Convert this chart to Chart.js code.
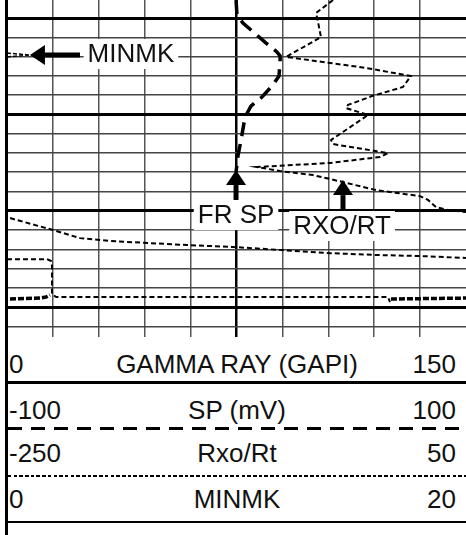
<!DOCTYPE html>
<html lang="en">
<head>
<meta charset="UTF-8" />
<title>Log track</title>
<script src="https://cdn.jsdelivr.net/npm/chart.js"></script>
<style>
  body { margin: 0; background: #fff; font-family: "Liberation Sans", Arial, sans-serif; color: #111; }
  #page { position: relative; width: 466px; height: 535px; overflow: hidden; }
  #track { position: absolute; left: 0; top: 0; }
  #edge { position: absolute; left: 5px; top: 0; width: 3px; height: 535px; background: #000; }
  .row { position: absolute; left: 8px; right: 0; height: 26px; line-height: 26px; font-size: 26px; }
  .row span { position: absolute; top: 0; white-space: pre; }
  .row .lo { left: 1px; }
  .row .name { left: 0; right: 0; text-align: center; }
  .row .hi { right: 10px; }
  .rule { position: absolute; left: 8px; right: 0; }
</style>
</head>
<body>
<div id="page">
  <canvas id="track" width="466" height="337"></canvas>
  <div id="header"></div>
  <div id="edge"></div>
</div>
<script>
  // header scales
  const trackNames = ['GAMMA RAY (GAPI)', 'SP (mV)', 'Rxo/Rt', 'MINMK'];
  const trackMin = [0, -100, -250, 0];
  const trackMax = [150, 100, 50, 20];

  // grid: 10 columns, depth lines (heavy every 5)
  const gridCols = [0, 1, 2, 3, 4, 5, 6, 7, 8, 9, 10];
  const depthLines = [0, 1, 2, 3, 4, 5, 6, 7, 8, 9, 10, 11, 12, 13, 14, 15, 16];
  const depthTop = -0.934, depthBottom = 16.55;

  // curves (value on own scale, depth in grid units)
  const spValue = [-0.2, 0.2, 2.8, 12.9, 17.6, 19.0, 19.0, 18.5, 15.5, 11.1, 6.3, 3.7, 2.0, 0.7, -0.2];
  const spDepth = [-0.93, -0.16, 0.26, 1.30, 1.76, 1.97, 2.28, 3.01, 3.53, 4.10, 4.57, 5.14, 6.33, 7.11, 7.99];

  const rxoValue = [-36.9, -48.0, -46.7, -44.8, -67.6, -15.4, 14.0, 8.8, -11.4, -27.1, -28.4, -14.0, -38.2, -36.9,
                    -1.0, -6.2, -38.9, -86.6, -71.6, -50.0, -30.4, -8.8, 19.9, 25.2, 30.4, 38.2, 50.0];
  const rxoDepth = [-0.93, -0.26, 0.21, 0.99, 2.02, 2.59, 3.01, 3.58, 4.05, 4.51, 4.67, 5.03, 6.33, 6.54,
                    7.01, 7.21, 7.52, 7.73, 7.94, 8.15, 8.51, 8.93, 9.24, 9.44, 9.81, 9.96, 10.07];

  const rxoWrapValue = [-248.0, -219.9, -202.3, -182.7, -156.5, -132.4, -102.3, -70.3, -38.9, -6.2, 19.9, 50.0];
  const rxoWrapDepth = [10.38, 11.00, 11.42, 11.57, 11.68, 11.78, 11.88, 12.04, 12.20, 12.30, 12.35, 12.45];

  const minmkTopValue = [0, 1.0, 0];
  const minmkTopDepth = [1.82, 1.92, 2.02];

  const minmkValue = [0, 1.74, 1.92, 1.96, 1.96, 2.14, 16.60, 16.69];
  const minmkDepth = [12.51, 12.51, 12.61, 12.87, 14.32, 14.48, 14.48, 14.74];

  const minmkRepeatValue = [0.13, 1.44, 1.70, 1.87, null, 16.73, 20.0];
  const minmkRepeatDepth = [14.58, 14.53, 14.48, 14.37, null, 14.58, 14.53];

  // callouts (grid units)
  const calloutText = ['MINMK', 'FR SP', 'RXO/RT'];
  const calloutX = [2.70, 4.99, 7.30];
  const calloutY = [1.87, 10.22, 10.79];
  const arrowTipX = [0.50, 4.99, 7.32];
  const arrowTipY = [1.92, 7.89, 8.41];
  const arrowTailX = [1.59, 4.99, 7.32];
  const arrowTailY = [1.92, 9.44, 9.96];

  const pts = (xs, ys) => xs.map((v, i) => ({ x: v, y: ys[i] }));

  // header rows
  const rowTops = [351, 397, 440, 486];
  const rules = [
    { top: 381, h: 3, bg: '#000' },
    { top: 427, h: 3, bg: 'repeating-linear-gradient(to right, #000 0 14px, transparent 14px 23px)' },
    { top: 475, h: 2, bg: 'repeating-linear-gradient(to right, #000 0 3.5px, transparent 3.5px 5.7px)' },
    { top: 521, h: 2, bg: '#000' }
  ];
  const header = document.getElementById('header');
  trackNames.forEach((n, i) => {
    const row = document.createElement('div');
    row.className = 'row';
    row.style.top = rowTops[i] + 'px';
    row.innerHTML = '<span class="lo">' + trackMin[i] + '</span><span class="name">' + n +
      '</span><span class="hi">' + trackMax[i] + '</span>';
    header.appendChild(row);
    const r = document.createElement('div');
    r.className = 'rule';
    r.style.top = rules[i].top + 'px';
    r.style.height = rules[i].h + 'px';
    r.style.background = rules[i].bg;
    header.appendChild(r);
  });

  const callouts = {
    id: 'callouts',
    afterDatasetsDraw(chart) {
      const { ctx, scales: { x, y } } = chart;
      ctx.save();
      ctx.font = '26px "Liberation Sans", Arial, sans-serif';
      ctx.textAlign = 'center';
      ctx.textBaseline = 'middle';
      calloutText.forEach((t, i) => {
        const cx = x.getPixelForValue(calloutX[i]);
        const cy = y.getPixelForValue(calloutY[i]);
        const w = ctx.measureText(t).width + 8;
        ctx.fillStyle = '#fff';
        ctx.fillRect(cx - w / 2, cy - 15, w, 30);
        ctx.fillStyle = '#111';
        ctx.fillText(t, cx, cy + 1);

        const tx = x.getPixelForValue(arrowTipX[i]), ty = y.getPixelForValue(arrowTipY[i]);
        const sx = x.getPixelForValue(arrowTailX[i]), sy = y.getPixelForValue(arrowTailY[i]);
        const a = Math.atan2(ty - sy, tx - sx);
        const head = 15, half = 10;
        const bx = tx - head * Math.cos(a), by = ty - head * Math.sin(a);
        ctx.strokeStyle = '#000';
        ctx.lineWidth = 5;
        ctx.beginPath();
        ctx.moveTo(sx, sy);
        ctx.lineTo(bx, by);
        ctx.stroke();
        ctx.fillStyle = '#000';
        ctx.beginPath();
        ctx.moveTo(tx, ty);
        ctx.lineTo(bx + half * Math.sin(a), by - half * Math.cos(a));
        ctx.lineTo(bx - half * Math.sin(a), by + half * Math.cos(a));
        ctx.closePath();
        ctx.fill();
      });
      ctx.restore();
    }
  };

  const line = (data, axis, width, dash) => ({
    data, xAxisID: axis, showLine: true, pointRadius: 0, borderColor: '#000',
    borderWidth: width, borderDash: dash, tension: 0, spanGaps: false
  });

  new Chart(document.getElementById('track'), {
    type: 'scatter',
    data: {
      datasets: [
        line(pts(spValue, spDepth), 'xSP', 3.5, [14, 8]),
        line(pts(rxoValue, rxoDepth), 'xRxo', 2, [5, 3]),
        line(pts(rxoWrapValue, rxoWrapDepth), 'xRxo', 2, [5, 3]),
        line(pts(minmkTopValue, minmkTopDepth), 'xMinmk', 1.5, [4, 2]),
        line(pts(minmkValue, minmkDepth), 'xMinmk', 2, [5, 3]),
        line(pts(minmkRepeatValue, minmkRepeatDepth), 'xMinmk', 3.5, [6, 2])
      ]
    },
    options: {
      responsive: false,
      devicePixelRatio: 1,
      animation: false,
      layout: { padding: { left: 7, right: 0, top: 0, bottom: 0 } },
      plugins: { legend: { display: false }, tooltip: { enabled: false } },
      scales: {
        x: {
          type: 'linear', min: 0, max: 10,
          ticks: { display: false }, border: { display: false },
          afterBuildTicks: s => { s.ticks = gridCols.map(v => ({ value: v })); },
          grid: {
            drawTicks: false,
            color: c => c.tick.value === 5 ? '#000' : '#555',
            lineWidth: c => (c.tick.value === 0 || c.tick.value === 10) ? 0 : (c.tick.value === 5 ? 2.5 : 1.5)
          }
        },
        y: {
          type: 'linear', reverse: true, min: depthTop, max: depthBottom,
          ticks: { display: false }, border: { display: false },
          afterBuildTicks: s => { s.ticks = depthLines.map(v => ({ value: v })); },
          grid: {
            drawTicks: false,
            color: c => c.tick.value % 5 === 0 ? '#000' : '#444',
            lineWidth: c => c.tick.value % 5 === 0 ? 3 : 1.5
          }
        },
        xSP: { type: 'linear', display: false, min: trackMin[1], max: trackMax[1] },
        xRxo: { type: 'linear', display: false, min: trackMin[2], max: trackMax[2] },
        xMinmk: { type: 'linear', display: false, min: trackMin[3], max: trackMax[3] }
      }
    },
    plugins: [callouts]
  });
</script>
</body>
</html>
